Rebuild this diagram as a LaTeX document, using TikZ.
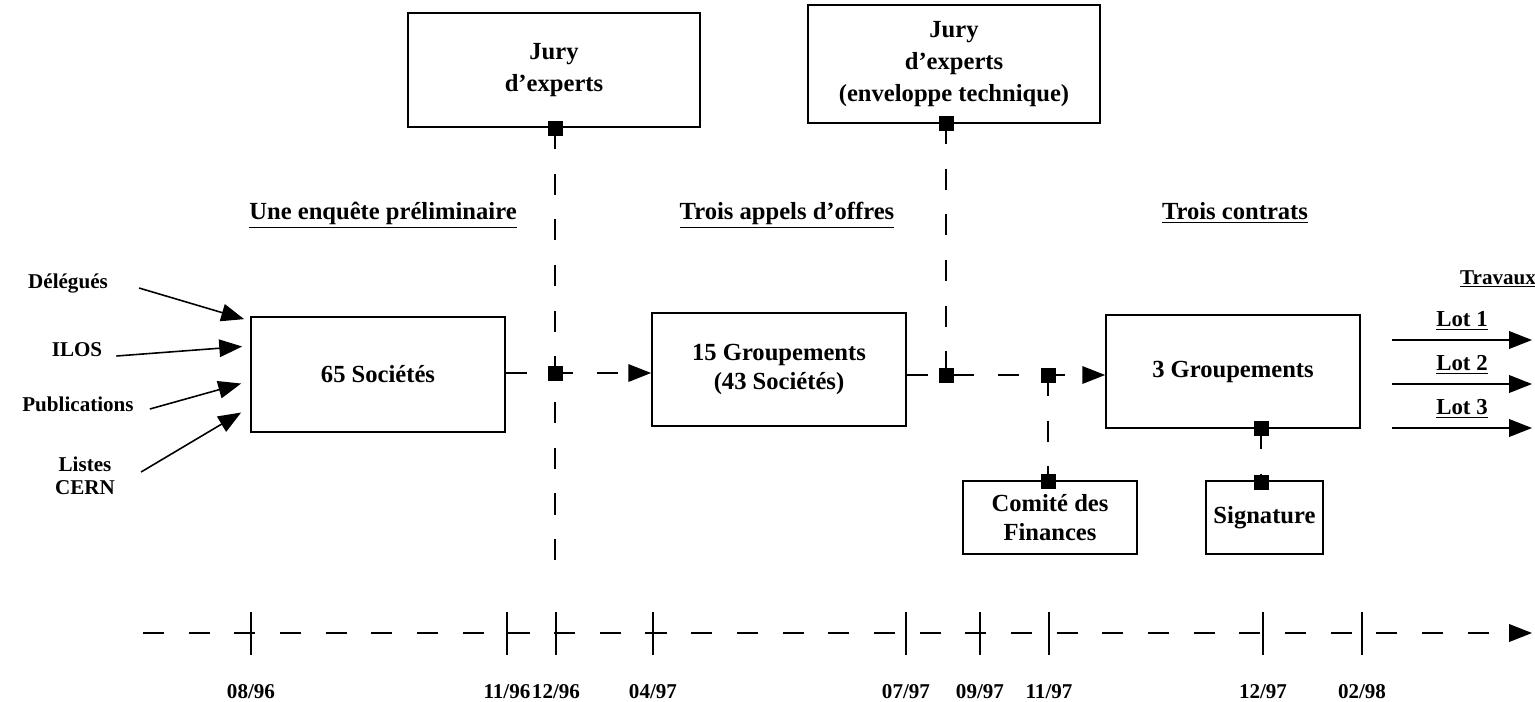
\documentclass[tikz,border=0pt]{standalone}
\usepackage{fontspec}
\setmainfont{Liberation Serif}
\usetikzlibrary{positioning,arrows.meta}
\begin{document}
\begin{tikzpicture}[x=0.02cm,y=-0.02cm,font=\bfseries\fontsize{14}{18}\selectfont,
  boite/.style={draw,line width=1pt,align=center,inner sep=0pt},
  petit/.style={font=\bfseries\fontsize{12}{13}\selectfont},
  jalon/.style={fill,minimum size=0.3cm,inner sep=0pt},
  tiret/.style={line width=0.9pt,dash pattern=on 12pt off 14pt},
  fleche/.style={line width=0.9pt,-{Triangle[length=13pt,width=10pt]}}]
  \useasboundingbox (0,0) rectangle (1535,701);
  % boites
  \node[boite,minimum width=5.84cm,minimum height=2.28cm] (jury1) at (554,70) {Jury\\d’experts};
  \node[boite,minimum width=5.84cm,minimum height=2.36cm] (jury2) at (954,64) {Jury\\d’experts\\(enveloppe technique)};
  \node[boite,minimum width=5.08cm,minimum height=2.3cm] (soc) at (378,374.5) {65 Sociétés};
  \node[boite,minimum width=5.08cm,minimum height=2.26cm,font=\bfseries\fontsize{14}{16.5}\selectfont] (grp15) at (779,369.5) {15 Groupements\\(43 Sociétés)};
  \node[boite,minimum width=5.08cm,minimum height=2.26cm] (grp3) at (1233,371.5) {3 Groupements};
  \node[boite,minimum width=3.48cm,minimum height=1.46cm,font=\bfseries\fontsize{14}{17}\selectfont] (comite) at (1050,517.5) {Comité des\\Finances};
  \node[boite,minimum width=2.34cm,minimum height=1.46cm] (sign) at (1264.5,517.5) {Signature};
  % titres
  \node (enq) at (383,215) {\underline{Une enquête préliminaire}};
  \node (appels) at (787,215) {\underline{Trois appels d’offres}};
  \node (contrats) at (1235,213) {\underline{Trois contrats}};
  \node[petit] (trav) at (1498,279) {\underline{Travaux}};
  % jalons
  \node[jalon] (j1) at (555,128) {};
  \node[jalon] (m1) at (555,373) {};
  \node[jalon] (j2) at (946,123) {};
  \node[jalon] (m2) at (946,375) {};
  \node[jalon] (m3) at (1048,375) {};
  \node[jalon] (c1) at (1048,481) {};
  \node[jalon] (g3) at (1261,428) {};
  \node[jalon] (s1) at (1261,482) {};
  \coordinate (bas1) at (555,577);
  \draw[tiret] (j1.center) -- (m1.center) -- (bas1);
  \draw[tiret,fleche] (soc.east |- m1) -- (m1.center) -- (grp15.west |- m1);
  \draw[tiret] (j2.center) -- (m2.center);
  \draw[tiret,fleche] (grp15.east |- m2) -- (m2.center) -- (m3.center) -- (grp3.west |- m3);
  \draw[tiret] (m3.center) -- (c1.center);
  \draw[tiret] (g3.center) -- (s1.center);
  % sources
  \node[petit] (del) at (68,283) {Délégués};
  \node[petit] (ilos) at (77,350) {ILOS};
  \node[petit] (pub) at (78,404) {Publications};
  \node[petit,align=center] (lis) at (85,476) {Listes\\CERN};
  \draw[fleche] ([shift={(25,5)}]del.east) -- ([shift={(-6,3)}]soc.north west);
  \draw[fleche] ([shift={(8,6)}]ilos.east) -- ([shift={(-8,-28)}]soc.west);
  \draw[fleche] ([shift={(10,5)}]pub.east) -- ([shift={(-9,9)}]soc.west);
  \draw[fleche] ([shift={(20,-4)}]lis.east) -- ([shift={(-9,38)}]soc.west);
  % lots
  \foreach \i/\y in {1/340,2/384,3/428} {
    \coordinate (ld\i) at (1392,\y);
    \coordinate (lf\i) at (1532,\y);
    \draw[fleche] (ld\i) -- (lf\i);
    \node[font=\bfseries\fontsize{13}{14}\selectfont] (lot\i) at (1462,\y-19) {\underline{Lot \i}};
  }
  % calendrier
  \coordinate (t0) at (143,633);
  \coordinate (tf) at (1532,633);
  \draw[tiret,fleche] (t0) -- (tf);
  \foreach \x/\m/\a in {251/08/96,507/11/96,556/12/96,653/04/97,906/07/97,980/09/97,1049/11/97,1263/12/97,1362/02/98} {
    \coordinate (h\m\a) at (\x,612);
    \coordinate (b\m\a) at (\x,655);
    \draw[line width=0.9pt] (h\m\a) -- (b\m\a);
    \node[petit] (d\m\a) at (\x,692) {\m/\a};
  }
\end{tikzpicture}
\end{document}
